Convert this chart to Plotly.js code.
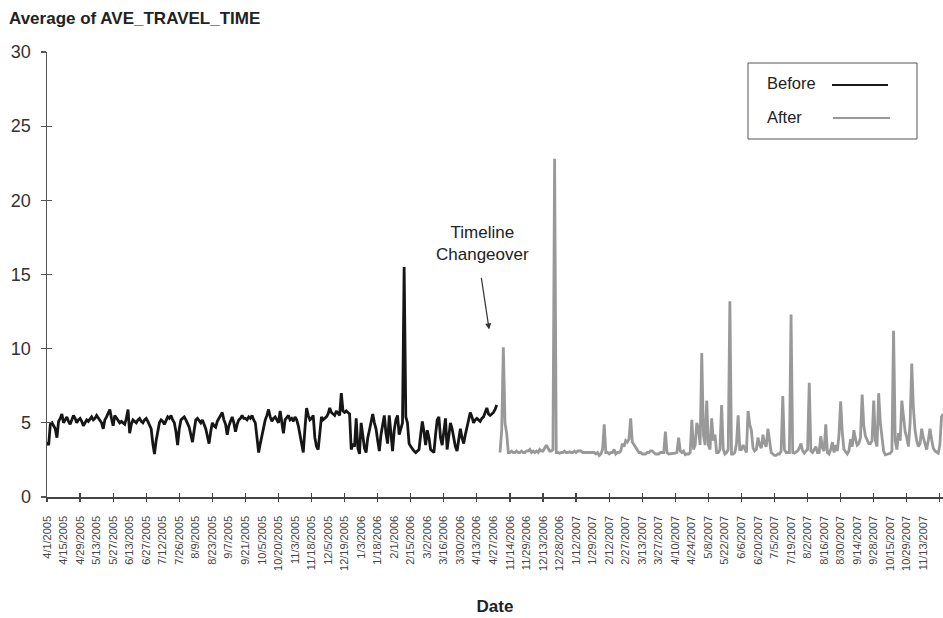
<!DOCTYPE html>
<html><head><meta charset="utf-8">
<script src="https://cdn.plot.ly/plotly-3.0.1.min.js"></script>
<style>html,body{margin:0;padding:0;background:#fff}#chart{width:943px;height:618px}</style>
</head><body><div id="chart"></div>
<script>
const tickLabels = ["4/1/2005","4/15/2005","4/29/2005","5/13/2005","5/27/2005","6/13/2005","6/27/2005","7/12/2005","7/26/2005","8/9/2005","8/23/2005","9/7/2005","9/21/2005","10/5/2005","10/20/2005","11/3/2005","11/18/2005","12/5/2005","12/19/2005","1/3/2006","1/18/2006","2/1/2006","2/15/2006","3/2/2006","3/16/2006","3/30/2006","4/13/2006","4/27/2006","11/14/2006","11/29/2006","12/13/2006","12/28/2006","1/12/2007","1/29/2007","2/12/2007","2/27/2007","3/13/2007","3/27/2007","4/10/2007","4/24/2007","5/8/2007","5/22/2007","6/6/2007","6/20/2007","7/5/2007","7/19/2007","8/2/2007","8/16/2007","8/30/2007","9/14/2007","9/28/2007","10/15/2007","10/29/2007","11/13/2007","11/28/2007"];

const beforeValues = [
3.7,3.5,4.9,5.0,4.8,4.6,4.0,5.1,5.3,5.6,
5.0,5.2,5.4,5.1,4.9,5.2,5.5,5.3,5.0,5.2,
5.3,5.1,4.8,5.0,5.2,5.1,5.3,5.4,5.2,5.3,
5.5,5.3,5.1,5.0,4.6,5.2,5.4,5.7,5.9,5.3,
4.8,5.5,5.3,5.2,5.0,5.1,5.0,4.9,5.3,5.9,
4.3,4.9,5.2,5.1,5.0,5.2,5.3,5.1,5.0,5.2,
5.3,5.1,4.9,4.6,3.6,2.9,3.8,4.5,5.0,5.2,
5.1,4.9,5.2,5.4,5.3,5.5,5.2,5.0,4.4,3.5,
4.6,5.2,5.3,5.4,5.2,5.0,4.7,4.2,3.7,4.5,
5.2,5.3,5.1,5.0,5.2,4.9,4.6,4.1,3.6,4.4,
5.0,4.8,4.7,5.1,5.3,5.5,5.7,5.2,4.9,4.2,
4.8,5.1,5.4,5.0,4.4,4.9,5.2,5.3,5.5,5.3,
5.3,5.2,5.4,5.3,5.5,5.2,5.0,4.0,3.0,3.6,
4.2,4.8,5.2,5.5,5.9,5.4,5.1,5.3,5.4,5.2,
5.0,5.8,4.9,4.3,5.2,5.4,5.5,5.2,5.3,5.1,
5.4,5.2,4.8,4.2,3.6,3.0,4.6,6.0,5.5,5.2,
5.3,5.5,4.0,3.4,3.2,4.4,5.4,5.2,5.3,5.4,
5.6,6.0,5.7,5.6,5.5,5.8,5.6,5.5,7.0,5.8,
5.7,5.8,5.7,5.6,3.2,3.6,3.4,5.3,3.3,2.9,
5.0,4.3,3.3,3.0,4.0,4.5,5.1,5.6,5.0,4.6,
3.8,3.1,4.2,4.8,5.5,4.3,3.6,5.5,4.2,3.1,
4.5,5.2,5.5,4.2,4.6,5.0,15.5,5.4,5.0,3.6,
3.4,3.2,3.1,3.0,3.1,3.2,4.2,5.1,4.4,3.5,
4.5,4.0,3.2,3.1,3.0,4.2,5.2,5.4,4.0,3.5,
4.6,5.3,3.2,4.1,5.0,4.6,4.0,3.4,3.1,3.9,
4.6,4.0,3.6,4.2,4.7,5.3,5.7,5.4,5.0,5.2,
5.3,5.2,5.1,5.3,5.4,5.7,6.0,5.6,5.5,5.6,
5.7,5.9,6.2
];

const afterStart = 274;
const afterValues = [
3.0,4.5,10.1,5.0,4.3,3.0,
3.0,3.1,3.0,3.0,3.1,3.0,3.0,3.1,3.0,3.0,
3.1,3.1,3.2,3.0,3.1,3.0,3.1,3.0,3.2,3.1,
3.1,3.3,3.5,3.3,3.1,3.1,3.2,22.8,3.0,3.0,
2.95,3.0,3.0,3.1,3.0,3.0,3.05,3.0,3.0,3.1,
3.0,3.1,3.1,3.1,3.0,3.0,3.0,3.0,3.0,3.0,
3.0,3.0,2.9,3.0,2.8,2.9,3.2,4.9,3.0,3.0,
2.9,3.0,3.0,3.2,2.9,3.0,3.0,3.1,3.6,3.4,
3.8,3.7,3.9,5.3,3.7,3.5,3.4,3.2,3.0,3.0,
2.9,2.9,2.9,3.0,3.0,3.1,3.1,3.0,2.9,2.9,
2.9,3.0,3.0,3.0,4.4,3.0,2.9,2.9,2.95,2.95,
2.95,3.0,4.0,3.1,3.0,3.1,2.85,2.9,2.9,3.0,
5.2,3.2,3.5,5.0,4.6,3.5,9.7,4.2,3.5,6.5,
3.5,3.2,5.3,3.8,4.2,3.0,3.0,3.2,6.2,3.2,
2.9,3.0,3.2,13.2,2.9,2.9,3.0,3.6,5.5,3.2,
3.2,3.5,3.3,3.0,5.8,4.9,4.5,3.3,3.1,3.2,
4.0,3.5,3.3,4.2,3.6,3.4,4.6,3.6,3.0,2.9,
2.8,2.8,2.9,2.9,3.1,6.8,3.2,3.0,3.0,3.0,
12.3,3.0,2.95,3.0,3.1,3.3,3.6,3.1,2.95,3.1,
3.2,7.7,3.1,3.0,3.2,3.4,3.0,3.0,4.1,3.3,
3.1,4.9,3.0,2.9,3.2,3.7,3.0,3.5,3.1,4.2,
6.45,4.3,3.2,3.0,2.9,3.1,3.9,3.4,4.5,3.9,
3.5,3.6,4.0,6.9,4.8,4.1,3.9,3.6,3.6,3.8,
6.5,3.8,3.4,7.0,5.0,4.1,3.1,2.85,2.9,2.95,
2.95,3.1,11.2,3.8,3.2,4.3,3.8,6.5,5.3,4.4,
4.0,3.4,5.0,9.0,6.0,4.5,3.8,3.4,3.6,4.6,
4.0,3.5,3.2,3.8,4.6,3.9,3.3,3.1,3.0,2.95,
3.5,5.4,5.6
];

const seriesNames = ["Before", "After"];
const titleText = "Average of AVE_TRAVEL_TIME";
const xTitle = "Date";
const noteText = "Timeline<br>Changeover";

const FONT = "Liberation Sans, Arial, Helvetica, sans-serif";
const labelStep = 10;
const tickVals = tickLabels.map((_, i) => i * labelStep);
const markVals = tickVals.filter((_, i) => i % 2 === 0);
const xRange = [0, 541.9];

const traces = [
  {
    type: "scatter", mode: "lines", name: seriesNames[0],
    x: beforeValues.map((_, i) => i), y: beforeValues,
    line: {color: "#161616", width: 2.8}, hoverinfo: "skip"
  },
  {
    type: "scatter", mode: "lines", name: seriesNames[1],
    x: afterValues.map((_, i) => afterStart + i), y: afterValues,
    line: {color: "#999999", width: 2.8}, hoverinfo: "skip"
  },
  // empty helper traces so the overlay tick-mark axes are drawn
  {type: "scatter", mode: "lines", x: [], y: [], xaxis: "x2", yaxis: "y", hoverinfo: "skip", showlegend: false},
  {type: "scatter", mode: "lines", x: [], y: [], xaxis: "x3", yaxis: "y", hoverinfo: "skip", showlegend: false},
  {type: "scatter", mode: "lines", x: [], y: [], xaxis: "x", yaxis: "y2", hoverinfo: "skip", showlegend: false}
];

// paper-coordinate helpers for the legend box (plot area 896 x 445)
const px = v => (v - 47) / 896;
const py = v => (497 - v) / 445;

const layout = {
  width: 943, height: 618,
  margin: {l: 47, r: 0, t: 52, b: 121, pad: 0},
  paper_bgcolor: "#ffffff", plot_bgcolor: "#ffffff",
  showlegend: false,
  font: {family: FONT, color: "#333"},
  title: {
    text: titleText, x: 9 / 943, xanchor: "left", y: 1 - 18 / 618, yanchor: "middle",
    font: {family: FONT, size: 17, weight: "bold", color: "#222"}
  },
  xaxis: {
    range: xRange, tickmode: "array", tickvals: tickVals, ticktext: tickLabels,
    tickangle: -90, ticks: "", showgrid: false, zeroline: false,
    showline: true, linecolor: "#444", linewidth: 1.5,
    tickfont: {family: FONT, size: 11, color: "#444"},
    ticklabelstandoff: 13,
    title: {text: xTitle, standoff: 30, font: {family: FONT, size: 17, weight: "bold", color: "#222"}}
  },
  xaxis2: {
    overlaying: "x", anchor: "y", side: "bottom", range: xRange,
    tickmode: "array", tickvals: markVals, ticks: "outside", ticklen: 4, tickwidth: 1.2, tickcolor: "#444",
    showticklabels: false, showgrid: false, zeroline: false, showline: false
  },
  xaxis3: {
    overlaying: "x", anchor: "y", side: "bottom", range: xRange,
    tickmode: "array", tickvals: markVals, ticks: "inside", ticklen: 4, tickwidth: 1.2, tickcolor: "#444",
    showticklabels: false, showgrid: false, zeroline: false, showline: false
  },
  yaxis: {
    range: [0, 30], tickmode: "linear", tick0: 0, dtick: 5,
    ticks: "outside", ticklen: 5, tickwidth: 1.2, tickcolor: "#555",
    showgrid: false, zeroline: false, showline: true, linecolor: "#555", linewidth: 1.5,
    tickfont: {family: FONT, size: 18, color: "#333"}, ticklabelstandoff: 6
  },
  yaxis2: {
    overlaying: "y", anchor: "x", side: "left", range: [0, 30], tickmode: "linear", tick0: 0, dtick: 5,
    ticks: "inside", ticklen: 5, tickwidth: 1.2, tickcolor: "#555",
    showticklabels: false, showgrid: false, zeroline: false, showline: false
  },
  shapes: [
    {type: "rect", xref: "paper", yref: "paper", x0: px(748), x1: px(917), y0: py(139), y1: py(63),
     line: {color: "#555", width: 1}, fillcolor: "rgba(255,255,255,0)"},
    {type: "line", xref: "paper", yref: "paper", x0: px(832), x1: px(888), y0: py(85), y1: py(85),
     line: {color: "#1a1a1a", width: 2}},
    {type: "line", xref: "paper", yref: "paper", x0: px(833), x1: px(890), y0: py(118), y1: py(118),
     line: {color: "#999999", width: 2}}
  ],
  annotations: [
    {xref: "paper", yref: "paper", x: px(765), y: py(83), xanchor: "left", yanchor: "middle",
     text: seriesNames[0], showarrow: false, font: {family: FONT, size: 16.5, color: "#222"}},
    {xref: "paper", yref: "paper", x: px(765), y: py(117), xanchor: "left", yanchor: "middle",
     text: seriesNames[1], showarrow: false, font: {family: FONT, size: 16.5, color: "#222"}},
    {xref: "x", yref: "y", x: 263.4, y: 17.1, xanchor: "center", yanchor: "middle",
     text: noteText, showarrow: false, align: "center", font: {family: FONT, size: 17, color: "#222"}},
    {xref: "x", yref: "y", x: 267.4, y: 11.3, ax: -8, ay: -53, text: "", showarrow: true,
     arrowhead: 2, arrowsize: 1, arrowwidth: 1.2, arrowcolor: "#333"}
  ]
};

Plotly.newPlot("chart", traces, layout, {displayModeBar: false, staticPlot: true});
</script>
</body></html>
